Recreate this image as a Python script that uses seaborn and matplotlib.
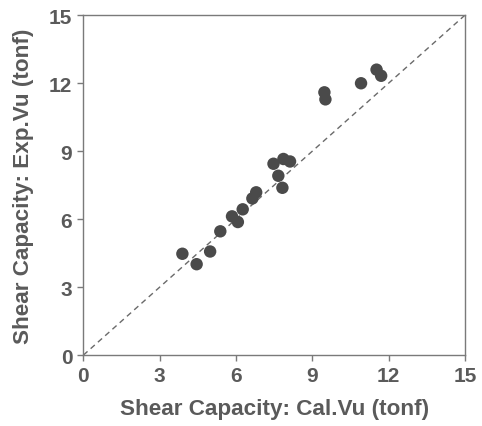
import matplotlib
matplotlib.use("Agg")
import matplotlib.pyplot as plt
import seaborn as sns
import pandas as pd

cal_vu = [3.89, 4.45, 4.98, 5.38, 5.84, 6.07, 6.26, 6.64, 6.79, 7.47, 7.66, 7.82, 7.86, 8.12,
          9.47, 9.51, 10.91, 11.52, 11.70]
exp_vu = [4.47, 4.01, 4.57, 5.46, 6.12, 5.87, 6.43, 6.91, 7.18, 8.44, 7.91, 7.38, 8.65, 8.54,
          11.59, 11.28, 11.99, 12.59, 12.32]
ticks = [0, 3, 6, 9, 12, 15]
line_x = [0, 15]
line_y = [0, 15]

df = pd.DataFrame({"Cal": cal_vu, "Exp": exp_vu})

sns.set_style("ticks")
plt.rcParams['font.family'] = ['Liberation Sans', 'DejaVu Sans']

fig = plt.figure(figsize=(4.82, 4.27), dpi=100)
ax = fig.add_axes([0.173, 0.166, 0.792, 0.7965])

text_c = "#5a5a5a"
ax.plot(line_x, line_y, linestyle=(0, (4, 3)), color="#6a6a6a", linewidth=1.0, zorder=1)
sns.scatterplot(data=df, x="Cal", y="Exp", ax=ax, s=80, color="#4a4a4a",
                edgecolor="none", linewidth=0, zorder=3)

ax.set_xlim(0, 15)
ax.set_ylim(0, 15)
ax.set_xticks(ticks)
ax.set_yticks(ticks)
ax.set_xticklabels([str(t) for t in ticks])
ax.set_yticklabels([str(t) for t in ticks])

for sp in ax.spines.values():
    sp.set_visible(True)
    sp.set_color("#7a7a7a")
    sp.set_linewidth(1.0)

ax.tick_params(direction="out", length=4, width=1.0, color="#7a7a7a",
               labelcolor=text_c, labelsize=15, pad=4)
for lab in ax.get_xticklabels() + ax.get_yticklabels():
    lab.set_fontweight("bold")

ax.set_xlabel("Shear Capacity: Cal.Vu (tonf)", fontsize=16.2, fontweight="bold",
              color=text_c, labelpad=9)
ax.set_ylabel("Shear Capacity: Exp.Vu (tonf)", fontsize=16.2, fontweight="bold",
              color=text_c, labelpad=11)

fig.savefig("out.png", dpi=100)
